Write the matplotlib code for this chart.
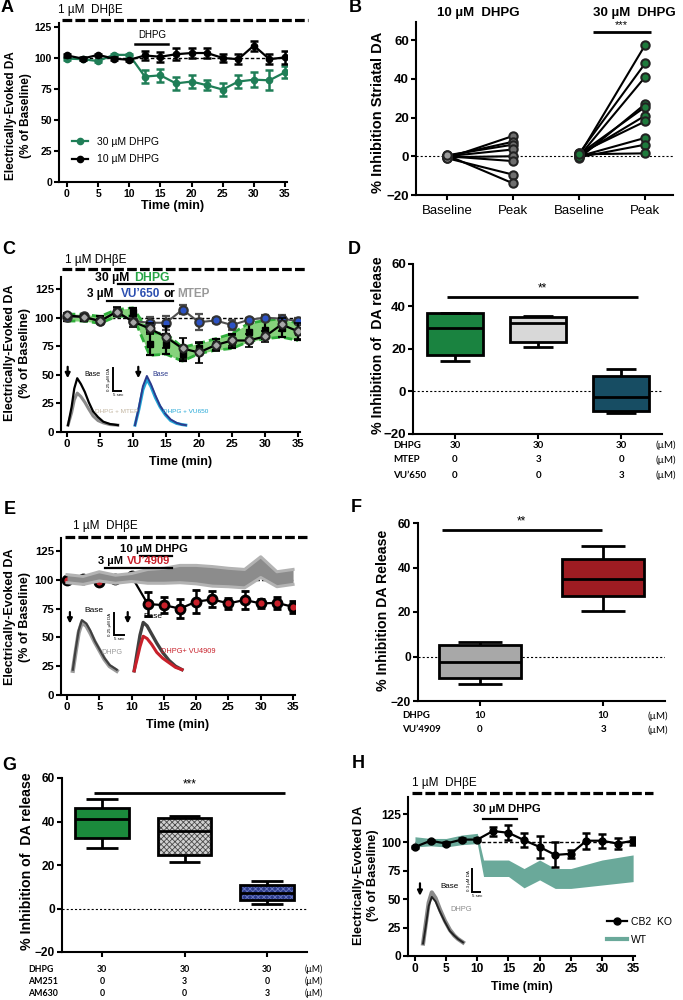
import matplotlib
matplotlib.use('Agg')
import matplotlib.pyplot as plt
from matplotlib.lines import Line2D
import matplotlib.transforms as mtrans

plt.rcParams['font.family'] = ['Liberation Sans', 'DejaVu Sans']
plt.rcParams['lines.scale_dashes'] = False
plt.rcParams['hatch.linewidth'] = 0.6

# ---------------- data ----------------
t_min = [0, 2.5, 5, 7.5, 10, 12.5, 15, 17.5, 20, 22.5, 25, 27.5, 30, 32.5, 35]
time_ticks = [0, 5, 10, 15, 20, 25, 30, 35]
pct_ticks = [0, 25, 50, 75, 100, 125]
inh_ticks = [-20, 0, 20, 40, 60]

# A
a_10_mean = [102, 99.5, 102.5, 99.5, 98.5, 102, 101, 103, 104, 104, 100, 99, 110, 99, 100.5]
a_10_sem = [1, 1, 1, 1, 1, 4, 4, 5, 4, 4, 3, 4, 4, 4, 5]
a_30_mean = [99.5, 99, 97.5, 102.5, 102.5, 85, 86, 79.5, 81, 78, 74.5, 81, 82.5, 82, 88.5]
a_30_sem = [1, 1, 1, 1, 1, 5, 5, 5, 5, 4, 5, 5, 6, 8, 5]

# B
b_labels = ['Baseline', 'Peak', 'Baseline', 'Peak']
b10_base = [-1, 0, 0.5, 0, -0.5, 0, -1, 0.5]
b10_peak = [10.5, 7.5, 6, 3.5, 0, -2.5, -9.5, -14]
b30_base = [0.5, 1.5, 0, -1, 1, 0.5, 1.5, 0, -0.5, 1]
b30_peak = [57.5, 48, 41, 27, 25.5, 21, 18, 9.5, 6, 1.5]

# C
c_vu_mean = [100.5, 101, 97, 105, 97, 95.5, 95.5, 107, 96, 97.5, 93.5, 98, 100, 99, 97]
c_vu_sem = [2, 2, 2, 3, 3, 5, 6, 4, 7, 2, 4, 2, 2, 3, 3]
c_mtep_mean = [102, 100.5, 97, 105, 96.5, 90.5, 83, 73, 69.5, 76, 80, 80, 83.5, 94, 88]
c_mtep_sem = [2, 2, 2, 4, 5, 5, 10, 9, 9, 5, 5, 6, 5, 6, 7]
c_dhpg_mean = [100, 100, 98, 104, 105, 77, 77, 68, 73, 76.5, 79.5, 87, 89.5, 91, 87.5]
c_dhpg_sem = [3, 3, 3, 3, 3.5, 10, 9, 6, 4.5, 5, 6.5, 8, 8, 8, 7.5]
c_tr1_t = [0.15, 0.7, 1.1, 1.55, 2.1, 2.7, 3.3, 3.95, 4.7, 5.5, 6.5, 7.7]
c_tr1_base = [6, 22, 38, 47, 42, 35, 26, 18, 13, 9, 7, 6]
c_tr1_mtep = [6, 17, 28, 34, 31, 26, 20, 14, 10, 8, 6.5, 6]
c_tr2_t = [10.3, 10.9, 11.5, 12.1, 12.7, 13.4, 14.1, 14.9, 15.7, 16.6, 17.4, 18.0]
c_tr2_base = [6, 22, 40, 49, 42, 32, 23, 16, 11, 8, 6.5, 6]
c_tr2_vu = [6, 20, 37, 46, 40, 30, 22, 15, 10, 7.5, 6.5, 6]

# D
d_q1 = [17, 23.5, -9]
d_med = [30, 32, -2.5]
d_q3 = [37, 35, 7.5]
d_lo = [14.5, 21, -10]
d_hi = [37, 35.5, 10.5]
d_rows = ['DHPG', 'MTEP', "VU’650"]
d_vals = [['30', '30', '30'], ['0', '3', '0'], ['0', '0', '3']]

# E
e_vu_mean = [100, 101, 98, 101, 103, 79, 78, 75, 81, 83, 79.5, 82.5, 79.5, 80, 76.5]
e_vu_sem = [2, 2, 2, 2, 2, 10, 7, 8, 10, 7, 5, 8, 4, 5, 5]
e_dhpg_mean = [101, 99.5, 103, 100.5, 102, 103, 103.5, 105, 104.5, 103, 102, 101, 111, 100.5, 102.5]
e_dhpg_sem = [3.5, 3.5, 4, 3.5, 3.5, 6, 6.5, 7.5, 8, 8.5, 8, 8, 9, 6.5, 6.5]
e_tr1_t = [0.9, 1.3, 1.8, 2.3, 3.0, 3.6, 4.3, 5.1, 5.8, 6.6, 7.7]
e_tr1_base = [22, 38, 56, 65, 62, 56, 47, 39, 32, 26, 22]
e_tr1_dhpg = [21, 36, 54, 63, 60, 54, 46, 38, 31, 25, 21]
e_tr2_t = [10.4, 10.8, 11.3, 11.8, 12.4, 13.1, 13.9, 14.8, 15.8, 16.8, 17.8]
e_tr2_base = [21, 35, 52, 63, 60, 53, 45, 37, 30, 25, 22]
e_tr2_vu = [21, 30, 42, 51, 49, 44, 37, 32, 28, 24, 22]

# F
f_q1 = [-9.5, 27]
f_med = [-2.5, 35]
f_q3 = [5, 44]
f_lo = [-12.5, 20.5]
f_hi = [6.5, 49.5]
f_rows = ['DHPG', "VU’4909"]
f_vals = [['10', '10'], ['0', '3']]

# G
g_q1 = [32.5, 24.5, 4]
g_med = [41, 35.5, 7]
g_q3 = [46, 41.5, 11]
g_lo = [28, 21.5, 2]
g_hi = [50.5, 42.5, 12.5]
g_rows = ['DHPG', 'AM251', 'AM630']
g_vals = [['30', '30', '30'], ['0', '3', '0'], ['0', '0', '3']]

# H
h_ko_mean = [96, 101.5, 99, 102.5, 102.5, 110, 108.5, 102, 96, 89, 90, 101.5, 101.5, 99, 101.5]
h_ko_sem = [1, 1, 1, 1, 1, 4, 6.5, 6, 10, 11, 3.5, 7, 6, 5, 3.5]
h_wt_t = [0, 2.5, 5, 7.5, 10, 11, 15, 17.5, 20, 22.5, 25, 30, 35]
h_wt_hi = [105, 103.5, 103.5, 106.5, 108, 84.5, 84.5, 77, 84.5, 77, 77, 84.5, 89]
h_wt_lo = [96, 97, 96, 98, 99, 70, 70, 60, 67, 59.5, 59.5, 62.5, 65.5]
h_tr_t = [1.3, 1.7, 2.2, 2.7, 3.3, 4.0, 4.8, 5.6, 6.3, 6.9, 7.7]
h_tr_base = [11, 25, 44, 52, 48, 39, 30, 22, 18, 15, 12]
h_tr_dhpg = [11, 27, 47, 56, 51, 41, 31, 23, 18, 15, 12]

# ---------------- helpers ----------------
W, H = 683, 1000
fig = plt.figure(figsize=(W / 100, H / 100), dpi=100)


def fx(x):
    return x / W


def fy(y):
    return 1 - y / H


def ftext(x, y, s, **kw):
    kw.setdefault('va', 'center')
    return fig.text(fx(x), fy(y), s, **kw)


def fline(x0, x1, y, **kw):
    kw.setdefault('color', 'k')
    kw.setdefault('lw', 1.6)
    fig.add_artist(Line2D([fx(x0), fx(x1)], [fy(y), fy(y)], transform=fig.transFigure, **kw))


def dhbe(x0, x1, y):
    fline(x0, x1, y, lw=2.3, dashes=(7, 2.3))


box_px = {}


def add_ax(name, l, t, r, b):
    ax = fig.add_axes([l / W, 1 - b / H, (r - l) / W, (b - t) / H])
    for s in ('top', 'right'):
        ax.spines[s].set_visible(False)
    for s in ('left', 'bottom'):
        ax.spines[s].set_linewidth(1.5)
    ax.tick_params(width=1.5, length=3.5, pad=1.5)
    box_px[name] = (l, t, r, b)
    return ax


def style_ticks(ax, fs):
    plt.setp(ax.get_xticklabels() + ax.get_yticklabels(), fontweight='bold', fontsize=fs)


def ylab(ax, name, text, fs, xpx, yfrac, ls=1.25):
    l, t, r, b = box_px[name]
    ax.set_ylabel(text, fontsize=fs, fontweight='bold', linespacing=ls)
    ax.yaxis.label.set_va('center')
    ax.yaxis.set_label_coords((xpx - l) / (r - l), yfrac)


def xlab(ax, name, text, fs, ypx):
    l, t, r, b = box_px[name]
    ax.set_xlabel(text, fontsize=fs, fontweight='bold')
    ax.xaxis.label.set_va('center')
    ax.xaxis.set_label_coords(0.5, -(ypx - b) / (b - t))


def letter(x, y, s):
    ftext(x, y, s, fontsize=13, fontweight='heavy', ha='left')


def arrow(ax, x, y0, y1):
    ax.annotate('', xy=(x, y1), xytext=(x, y0),
                arrowprops=dict(arrowstyle='-|>', color='k', lw=1.6, mutation_scale=7,
                                shrinkA=0, shrinkB=0))


def scalebar(ax, x0, x1, y0, y1, lab):
    ax.plot([x0, x0, x1], [y1, y0, y0], color='k', lw=1.4, solid_joinstyle='miter')
    ax.text(x0 - 0.25, (y0 + y1) / 2, lab, rotation=90, fontsize=3.2, ha='right', va='center')
    ax.text(x0, y0 - 1.5, '5 sec', fontsize=3.2, ha='left', va='top')


def boxes(ax, pos, q1, med, q3, lo, hi, faces, width, capw, hatches=None, hcols=None):
    stats = [dict(q1=a, med=m, q3=c, whislo=lw_, whishi=hw, fliers=[])
             for a, m, c, lw_, hw in zip(q1, med, q3, lo, hi)]
    if hatches is not None:
        under = ax.bxp(stats, positions=pos, widths=width, patch_artist=True, showcaps=False,
                       manage_ticks=False, boxprops=dict(lw=0), whiskerprops=dict(lw=0),
                       medianprops=dict(lw=0), showfliers=False)
        for p, fcol, h, hc in zip(under['boxes'], faces, hatches, hcols):
            p.set_facecolor(fcol)
            p.set_edgecolor(hc)
            p.set_hatch(h)
            p.set_linewidth(0)
            p.set_zorder(2)
    bp = ax.bxp(stats, positions=pos, widths=width, patch_artist=True, capwidths=capw,
                manage_ticks=False, showfliers=False,
                boxprops=dict(lw=2, edgecolor='k'), whiskerprops=dict(lw=2, color='k'),
                capprops=dict(lw=2, color='k'), medianprops=dict(lw=2, color='k'))
    for i, p in enumerate(bp['boxes']):
        if hatches is not None:
            p.set_facecolor('none')
        else:
            p.set_facecolor(faces[i])
        p.set_zorder(3)
    for k in ('whiskers', 'caps', 'medians'):
        for a in bp[k]:
            a.set_zorder(4)
            a.set_solid_capstyle('butt')


def cond_table(ax, rows, vals, ys, xlab_px, xum_px, fs):
    tr = mtrans.blended_transform_factory(ax.transData, fig.transFigure)
    for r, v, y in zip(rows, vals, ys):
        ftext(xlab_px, y, r, fontsize=fs, fontweight='bold', ha='left', family=['Lato', 'DejaVu Sans'])
        for i, s in enumerate(v):
            ax.text(i, fy(y), s, transform=tr, fontsize=fs, fontweight='bold', ha='center', va='center',
                    family=['Lato', 'DejaVu Sans'])
        ftext(xum_px, y, '(µM)', fontsize=fs, ha='left', family=['Lato', 'DejaVu Sans'])


def sig(ax, x0, x1, y, stars, fs=8):
    ax.plot([x0, x1], [y, y], color='k', lw=2, solid_capstyle='butt', clip_on=False)
    ax.text((x0 + x1) / 2, y + 1.2, stars, ha='center', va='bottom', fontsize=fs)


def time_axis(ax, ylim, yt, fs):
    ax.set_xlim(*ylim[0])
    ax.set_ylim(*ylim[1])
    ax.set_xticks(time_ticks)
    ax.set_yticks(yt)
    style_ticks(ax, fs)
    ax.hlines(100, t_min[0], t_min[-1], colors='k', lw=1, linestyles=(0, (2.5, 1.5)), zorder=1)


green_a = '#1f7e57'
green_b = '#1e7a3c'

# ================= A =================
axA = add_ax('A', 59, 23, 287, 182)
time_axis(axA, ((-1.28, 35.32), (0, 128.2)), pct_ticks, 7.5)
eA30 = axA.errorbar(t_min, a_30_mean, yerr=a_30_sem, color=green_a, lw=1.6, marker='o', ms=4.5,
                    mfc=green_a, mec=green_a, elinewidth=1.8, capsize=3, capthick=1.8, zorder=3)
eA10 = axA.errorbar(t_min, a_10_mean, yerr=a_10_sem, color='k', lw=1.6, marker='o', ms=4.5,
                    mfc='k', mec='k', elinewidth=1.8, capsize=3, capthick=1.8, zorder=4)
axA.legend([eA30[0], eA10[0]], ['30 µM DHPG', '10 µM DHPG'], loc='upper left',
           bbox_to_anchor=(0.055, 0.285), frameon=False, fontsize=7.5, handlelength=1.6,
           handletextpad=0.8, labelspacing=0.75, borderpad=0, borderaxespad=0)
xlab(axA, 'A', 'Time (min)', 9, 206)
ylab(axA, 'A', 'Electrically-Evoked DA\n(% of Baseline)', 8.5, 18.5, 0.415)
letter(1, 8, 'A')
ftext(58, 10, '1 µM  DHβE', fontsize=8.5, ha='left')
dhbe(62, 308, 20)
ftext(152, 35, 'DHPG', fontsize=7, ha='center')
fline(135, 168, 44, lw=1.8)

# ================= B =================
axB = add_ax('B', 416, 22, 673, 195)
axB.set_xlim(-0.47, 3.42)
axB.set_ylim(-20, 69.3)
axB.set_yticks(inh_ticks)
axB.set_xticks(range(4))
axB.set_xticklabels(b_labels)
plt.setp(axB.get_yticklabels(), fontweight='bold', fontsize=9.5)
plt.setp(axB.get_xticklabels(), fontsize=9.5)
axB.tick_params(axis='x', pad=4)
axB.axhline(0, color='k', lw=0.8, ls=(0, (1.5, 1.5)), zorder=1)
for b0, p0 in zip(b10_base, b10_peak):
    axB.plot([0, 1], [b0, p0], color='k', lw=1.5, zorder=2)
for b0, p0 in zip(b30_base, b30_peak):
    axB.plot([2, 3], [b0, p0], color='k', lw=1.5, zorder=2)
axB.plot([0] * len(b10_base), b10_base, 'o', ms=6, mfc='#9a9a9a', mec='#222', mew=1.5, zorder=3)
axB.plot([1] * len(b10_peak), b10_peak, 'o', ms=6, mfc='#6e6e6e', mec='#222', mew=1.5, zorder=3)
axB.plot([2] * len(b30_base), b30_base, 'o', ms=6, mfc=green_b, mec='#222', mew=1.5, zorder=3)
axB.plot([3] * len(b30_peak), b30_peak, 'o', ms=6, mfc=green_b, mec='#222', mew=1.5, zorder=3)
sig(axB, 2.21, 3.08, 64, '***', 8)
ylab(axB, 'B', '% Inhibition Striatal DA', 10.5, 378, 0.48)
letter(349, 8, 'B')
ftext(478, 13, '10 µM  DHPG', fontsize=9.5, fontweight='bold', ha='center')
ftext(634, 13, '30 µM  DHPG', fontsize=9.5, fontweight='bold', ha='center')

# ================= C =================
axC = add_ax('C', 61, 277, 300, 432)
time_axis(axC, ((-0.91, 35.3), (0, 135.5)), pct_ticks, 8.2)
c_lo = [m - s for m, s in zip(c_dhpg_mean, c_dhpg_sem)]
c_hi = [m + s for m, s in zip(c_dhpg_mean, c_dhpg_sem)]
axC.fill_between(t_min, c_lo, c_hi, color='#86d27c', lw=0, zorder=2)
axC.plot(t_min, c_lo, color='#2fae3a', lw=2, dashes=(6, 3), zorder=2)
axC.plot(t_min, c_hi, color='#2fae3a', lw=2, dashes=(6, 3), zorder=2)
axC.errorbar(t_min, c_dhpg_mean, yerr=c_dhpg_sem, fmt='s', ms=4.5, mfc='k', mec='k',
             ecolor='k', elinewidth=1.6, capsize=3, capthick=1.6, zorder=3)
axC.errorbar(t_min, c_vu_mean, yerr=c_vu_sem, color='#505050', lw=1.5, marker='o', ms=6,
             mfc='#2c52c4', mec='#333', mew=1.6, ecolor='#505050', elinewidth=1.6, capsize=3,
             capthick=1.6, zorder=4)
axC.errorbar(t_min, c_mtep_mean, yerr=c_mtep_sem, color='k', lw=1.6, marker='o', ms=6,
             mfc='#333', mec='#222', mew=1.2, ecolor='k', elinewidth=1.6, capsize=3,
             capthick=1.6, zorder=5)
axC.plot(t_min, c_mtep_mean, 'D', ms=2.6, color='#a8a8a8', zorder=6)
# inset traces
axC.plot(c_tr1_t, c_tr1_mtep, color='#8a8a8a', lw=2.2, zorder=3)
axC.plot(c_tr1_t, c_tr1_base, color='k', lw=1.6, zorder=3)
axC.plot(c_tr2_t, c_tr2_vu, color='#21a6d6', lw=2.2, zorder=3)
axC.plot(c_tr2_t, c_tr2_base, color='#2b3a8c', lw=1.4, zorder=3)
arrow(axC, 0.1, 57, 47)
arrow(axC, 10.8, 57, 47)
axC.text(2.6, 50, 'Base', fontsize=5, ha='left', va='center')
axC.text(13.0, 50, 'Base', fontsize=5, ha='left', va='center', color='#2b3a8c')
axC.text(4.3, 18, 'DHPG + MTEP', fontsize=4.6, ha='left', va='center', color='#c2b5a0')
axC.text(14.5, 18, 'DHPG + VU650', fontsize=4.6, ha='left', va='center', color='#21a6d6')
scalebar(axC, 6.9, 8.2, 36, 56, '0.25 µM DA')
xlab(axC, 'C', 'Time (min)', 9, 462)
ylab(axC, 'C', 'Electrically-Evoked DA\n(% of Baseline)', 9, 17.5, 0.51)
letter(2, 249, 'C')
ftext(65, 260, '1 µM DHβE', fontsize=8.5, ha='left')
dhbe(62, 305, 269)
ftext(133, 278, '30 µM ', fontsize=8.8, fontweight='bold', ha='right')
ftext(134, 278, 'DHPG', fontsize=8.8, fontweight='bold', ha='left', color='#27a546')
fline(118, 173, 284, lw=1.6)
ftext(117, 294, '3 µM ', fontsize=8.5, fontweight='bold', ha='right')
ftext(121, 294, 'VU’650', fontsize=8.5, fontweight='bold', ha='left', color='#2c4fb0')
ftext(164, 294, 'or', fontsize=8.5, fontweight='bold', ha='left')
ftext(177, 294, 'MTEP', fontsize=8.5, fontweight='bold', ha='left', color='#999999')
fline(107, 173, 301, lw=1.6)

# ================= D =================
axD = add_ax('D', 413, 264, 662, 434)
axD.set_xlim(-0.506, 2.49)
axD.set_ylim(-20, 60)
axD.set_yticks(inh_ticks)
axD.set_xticks([0, 1, 2])
axD.set_xticklabels([])
style_ticks(axD, 9.5)
axD.axhline(0, color='k', lw=0.8, ls=(0, (1.5, 1.5)), zorder=1)
boxes(axD, [0, 1, 2], d_q1, d_med, d_q3, d_lo, d_hi, ['#1a8340', '#d8d8d8', '#174d63'], 0.67, 0.36)
sig(axD, -0.1, 2.2, 44.5, '**', 8.5)
ylab(axD, 'D', '% Inhibition of  DA release', 10.2, 378, 0.52)
letter(348, 249, 'D')
cond_table(axD, d_rows, d_vals, [445, 460, 475], 393, 655, 7)

# ================= E =================
axE = add_ax('E', 61, 538, 295, 695)
time_axis(axE, ((-0.93, 35.3), (0, 136.3)), pct_ticks, 8.2)
e_lo = [m - s for m, s in zip(e_dhpg_mean, e_dhpg_sem)]
e_hi = [m + s for m, s in zip(e_dhpg_mean, e_dhpg_sem)]
axE.errorbar(t_min, e_vu_mean, yerr=e_vu_sem, color='k', lw=1.6, marker='o', ms=6.5,
             mfc='#c8202a', mec='k', mew=2, ecolor='k', elinewidth=1.8, capsize=3.2,
             capthick=1.8, zorder=3)
axE.fill_between(t_min, e_lo, e_hi, color='#8c8c8c', lw=0, zorder=4)
axE.plot(t_min, e_lo, color='#b3b3b3', lw=2.2, zorder=4)
axE.plot(t_min, e_hi, color='#b3b3b3', lw=2.2, zorder=4)
axE.plot(e_tr1_t, e_tr1_dhpg, color='#9a9a9a', lw=3, zorder=3)
axE.plot(e_tr1_t, e_tr1_base, color='#404040', lw=1.6, zorder=3)
axE.plot(e_tr2_t, e_tr2_base, color='#404040', lw=2.4, zorder=3)
axE.plot(e_tr2_t, e_tr2_vu, color='#c8202a', lw=2.2, zorder=3)
arrow(axE, 0.45, 72, 62)
arrow(axE, 9.4, 72, 62)
axE.text(2.7, 73, 'Base', fontsize=6, ha='left', va='center')
axE.text(11.8, 68, 'Base', fontsize=6, ha='left', va='center')
axE.text(5.3, 37, 'DHPG', fontsize=5.2, ha='left', va='center', color='#9a9a9a')
axE.text(14.6, 37.5, 'DHPG+ VU4909', fontsize=5.3, ha='left', va='center', color='#c8202a')
scalebar(axE, 7.2, 8.9, 52, 71, '0.25 µM DA')
xlab(axE, 'E', 'Time (min)', 9, 725)
ylab(axE, 'E', 'Electrically-Evoked DA\n(% of Baseline)', 9, 17.5, 0.497)
letter(4, 510, 'E')
ftext(73, 526, '1 µM  DHβE', fontsize=8.5, ha='left')
dhbe(65, 307, 537)
ftext(120, 549, '10 µM DHPG', fontsize=8.2, fontweight='bold', ha='left')
fline(140, 172, 556, lw=1.6)
ftext(126, 561, '3 µM ', fontsize=8, fontweight='bold', ha='right')
ftext(127, 561, 'VU’4909', fontsize=8, fontweight='bold', ha='left', color='#c8202a')
fline(105, 172, 568, lw=1.6)

# ================= F =================
axF = add_ax('F', 418, 523, 665, 701)
axF.set_xlim(-0.504, 1.504)
axF.set_ylim(-20, 60)
axF.set_yticks(inh_ticks)
axF.set_xticks([0, 1])
axF.set_xticklabels([])
style_ticks(axF, 8.6)
axF.axhline(0, color='k', lw=0.8, ls=(0, (1.5, 1.5)), zorder=1)
boxes(axF, [0, 1], f_q1, f_med, f_q3, f_lo, f_hi, ['#a8a8a8', '#9e1c22'], 0.66, 0.35)
sig(axF, -0.31, 0.99, 57, '**', 8.5)
ylab(axF, 'F', '% Inhibition DA Release', 10.2, 383, 0.51)
letter(351, 508, 'F')
cond_table(axF, f_rows, f_vals, [716, 730], 402, 648, 7)

# ================= G =================
axG = add_ax('G', 62, 778, 307, 952)
axG.set_xlim(-0.485, 2.485)
axG.set_ylim(-20, 60)
axG.set_yticks(inh_ticks)
axG.set_xticks([0, 1, 2])
axG.set_xticklabels([])
style_ticks(axG, 8.6)
axG.axhline(0, color='k', lw=0.8, ls=(0, (1.5, 1.5)), zorder=1)
boxes(axG, [0, 1, 2], g_q1, g_med, g_q3, g_lo, g_hi, ['#1b8a3c', '#d0d0d0', '#2a3a8a'], 0.65, 0.38,
      hatches=['', 'xxxxxx', 'xxxxxx'], hcols=['#1b8a3c', '#4a4a4a', '#6a78c0'])
sig(axG, -0.1, 2.22, 53.3, '***', 8.5)
ylab(axG, 'G', '% Inhibition of  DA release', 10.2, 27, 0.52)
letter(2, 765, 'G')
cond_table(axG, g_rows, g_vals, [969, 981, 993], 28, 305, 6.3)

# ================= H =================
axH = add_ax('H', 408, 797, 635, 956)
time_axis(axH, ((-1.12, 35.3), (0, 140)), pct_ticks, 8.6)
hWT = axH.fill_between(h_wt_t, h_wt_lo, h_wt_hi, color='#6aa99a', lw=0, zorder=2)
eH = axH.errorbar(t_min, h_ko_mean, yerr=h_ko_sem, color='k', lw=1.6, marker='o', ms=5,
                  mfc='k', mec='k', elinewidth=1.8, capsize=3.2, capthick=1.8, zorder=3)
axH.plot(h_tr_t, h_tr_dhpg, color='#8a8a8a', lw=3, zorder=3)
axH.plot(h_tr_t, h_tr_base, color='#222', lw=1.4, zorder=3)
arrow(axH, 0.8, 64, 53)
axH.text(4.0, 61, 'Base', fontsize=5.8, ha='left', va='center')
axH.text(5.6, 41, 'DHPG', fontsize=5.4, ha='left', va='center', color='#8a8a8a')
scalebar(axH, 9.2, 10.4, 56, 77, '0.3 µM DA')
wt_handle = Line2D([], [], color='#6aa99a', lw=3)
axH.legend([eH[0], wt_handle], ['CB2  KO', 'WT'], loc='upper left', bbox_to_anchor=(0.877, 0.245),
           frameon=False, fontsize=7.5, handlelength=1.9, handletextpad=0.35, labelspacing=0.75,
           borderpad=0, borderaxespad=0)
xlab(axH, 'H', 'Time (min)', 8.8, 987)
ylab(axH, 'H', 'Electrically-Evoked DA\n(% of Baseline)', 9.2, 366, 0.51)
letter(352, 764, 'H')
ftext(412, 783, '1 µM  DHβE', fontsize=8.5, ha='left')
dhbe(412, 653, 793)
ftext(507, 809, '30 µM DHPG', fontsize=8.2, fontweight='bold', ha='center')
fline(483, 517, 819, lw=1.6)

fig.savefig('out.png', dpi=100)
